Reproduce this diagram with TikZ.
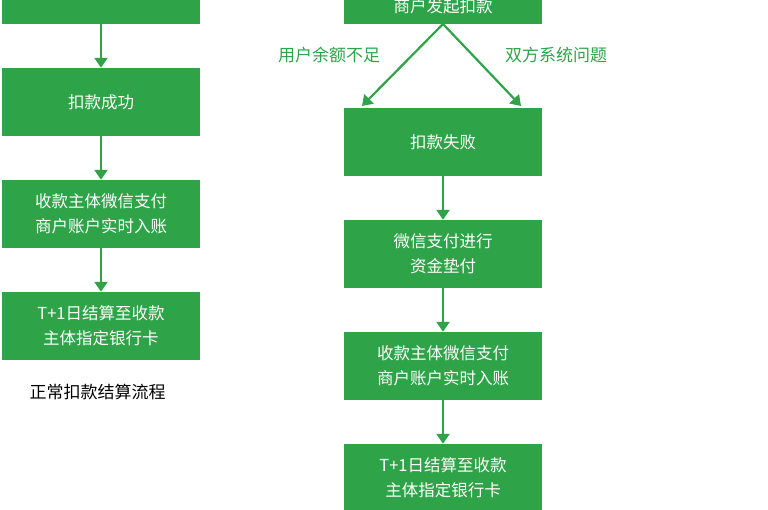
\documentclass[tikz,border=0pt]{standalone}
\usepackage{fontspec}
\setmainfont{Noto Sans CJK SC}
\usetikzlibrary{arrows.meta}
\definecolor{wg}{HTML}{2EA348}
\begin{document}
\begin{tikzpicture}[x=1pt,y=-1pt,
  box/.style={draw=none,fill=wg,text=white,minimum width=198pt,minimum height=68pt,font=\fontsize{16.5}{25}\selectfont,align=center,inner sep=0pt},
  arr/.style={draw=wg,line width=2.2pt,-{Triangle[length=10pt,width=13pt]}},
  lbl/.style={text=wg,font=\fontsize{17}{20}\selectfont}]
\useasboundingbox (0,0) rectangle (768,510);
\clip (0,0) rectangle (768,510);
\node[box,minimum height=80pt] (l0) at (101,-16) {};
\node[box] (l1) at (101,102) {扣款成功};
\node[box] (l2) at (101,214) {收款主体微信支付\\商户账户实时入账};
\node[box] (l3) at (101,326) {T+1日结算至收款\\主体指定银行卡};
\node[anchor=west,font=\fontsize{17}{20}\selectfont] (cap) at (26,392) {正常扣款结算流程};
\draw[arr] (l0) -- (l1);
\draw[arr] (l1) -- (l2);
\draw[arr] (l2) -- (l3);
\node[box,minimum height=68pt,anchor=south,text depth=0pt] (r0) at (443,24) {};
\node[text=white,font=\fontsize{16.5}{20}\selectfont] (r0t) at (443,6) {商户发起扣款};
\node[box] (r1) at (443,142) {扣款失败};
\node[box] (r2) at (443,254) {微信支付进行\\资金垫付};
\node[box] (r3) at (443,366) {收款主体微信支付\\商户账户实时入账};
\node[box] (r4) at (443,478) {T+1日结算至收款\\主体指定银行卡};
\coordinate (a1) at (362,106);
\coordinate (a2) at (521,106);
\draw[arr] (r0.south) -- (a1);
\draw[arr] (r0.south) -- (a2);
\node[lbl] (t1) at (329,55) {用户余额不足};
\node[lbl] (t2) at (556,55) {双方系统问题};
\draw[arr] (r1) -- (r2);
\draw[arr] (r2) -- (r3);
\draw[arr] (r3) -- (r4);
\end{tikzpicture}
\end{document}
